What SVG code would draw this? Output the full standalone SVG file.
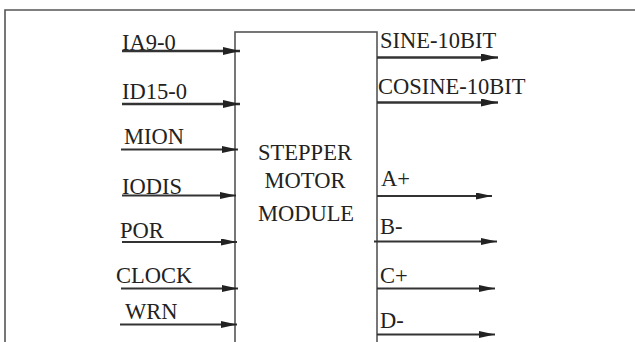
<svg xmlns="http://www.w3.org/2000/svg" width="635" height="342" viewBox="0 0 635 342">
<style>
text{font-family:"Liberation Serif","Times New Roman",serif;font-size:22.5px;fill:#222}
.frame{fill:none;stroke:#555;stroke-width:1.6}
.box{fill:#fff;stroke:#555;stroke-width:1.6}
.w{stroke:#333;stroke-width:1.8;fill:none}
.t{stroke:#333;stroke-width:2.6;fill:none}
</style>
<defs>
<marker id="ah" viewBox="0 0 16 7" refX="16" refY="3.5" markerWidth="16" markerHeight="7" markerUnits="userSpaceOnUse" orient="auto">
<path d="M0,0 L16,3.5 L0,7 Z" fill="#222"/>
</marker>
<marker id="ahb" viewBox="0 0 17 8" refX="17" refY="4" markerWidth="17" markerHeight="8" markerUnits="userSpaceOnUse" orient="auto">
<path d="M0,0 L17,4 L0,8 Z" fill="#222"/>
</marker>
</defs>
<rect width="635" height="342" fill="#fff"/>
<path class="frame" d="M5,342 V10 H635"/>
<g id="module">
<rect class="box" x="235" y="32" width="142" height="320"/>
<text x="305" y="160" text-anchor="middle">STEPPER</text>
<text x="305" y="188" text-anchor="middle">MOTOR</text>
<text x="306" y="220.5" text-anchor="middle">MODULE</text>
</g>
<g id="connectors">
<line class="t" x1="122" y1="51" x2="240" y2="51" marker-end="url(#ahb)"/>
<line class="t" x1="122" y1="104" x2="240" y2="104" marker-end="url(#ahb)"/>
<line class="w" x1="121" y1="149.5" x2="238" y2="149.5" marker-end="url(#ah)"/>
<line class="w" x1="122" y1="195.5" x2="236" y2="195.5" marker-end="url(#ah)"/>
<line class="w" x1="122" y1="242" x2="237" y2="242" marker-end="url(#ah)"/>
<line class="w" x1="121" y1="288.5" x2="238" y2="288.5" marker-end="url(#ah)"/>
<line class="w" x1="120" y1="324.5" x2="237" y2="324.5" marker-end="url(#ah)"/>
<line class="t" x1="377" y1="57.5" x2="498" y2="57.5" marker-end="url(#ahb)"/>
<line class="t" x1="377" y1="102.5" x2="498" y2="102.5" marker-end="url(#ahb)"/>
<line class="w" x1="377" y1="196" x2="492" y2="196" marker-end="url(#ah)"/>
<line class="w" x1="374" y1="241.5" x2="497" y2="241.5" marker-end="url(#ah)"/>
<line class="w" x1="377" y1="288.5" x2="495" y2="288.5" marker-end="url(#ah)"/>
<line class="w" x1="377" y1="334.5" x2="495" y2="334.5" marker-end="url(#ah)"/>
</g>
<g id="in-IA9-0"><text x="122" y="49.5">IA9-0</text></g>
<g id="in-ID15-0"><text x="122" y="98.5">ID15-0</text></g>
<g id="in-MION"><text x="124" y="144">MION</text></g>
<g id="in-IODIS"><text x="122" y="193.5">IODIS</text></g>
<g id="in-POR"><text x="120" y="237.5">POR</text></g>
<g id="in-CLOCK"><text x="116" y="283">CLOCK</text></g>
<g id="in-WRN"><text x="125" y="319">WRN</text></g>
<g id="out-SINE"><text x="380" y="47.5">SINE-10BIT</text></g>
<g id="out-COSINE"><text x="378" y="94">COSINE-10BIT</text></g>
<g id="out-A"><text x="381" y="186">A+</text></g>
<g id="out-B"><text x="380" y="234">B-</text></g>
<g id="out-C"><text x="380" y="282.5">C+</text></g>
<g id="out-D"><text x="380" y="327.5">D-</text></g>
</svg>
